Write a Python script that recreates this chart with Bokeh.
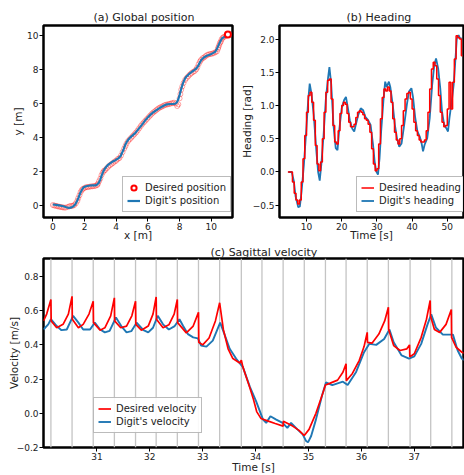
from bokeh.plotting import figure
from bokeh.layouts import column, row
from bokeh.models import Range1d, FixedTicker, Span, Legend, LegendItem
from bokeh.embed import file_html
from bokeh.resources import INLINE

FONT = "DejaVu Sans"
RED = "#ff0000"
BLUE = "#1f77b4"

# ---------------- (a) Global position ----------------
pos_x = [0.0, 0.2, 0.4, 0.67, 0.85, 1.0, 1.15, 1.3, 1.42, 1.52, 1.63, 1.73, 1.84, 1.94, 2.1, 2.25, 2.45, 2.68, 2.8,
         2.89, 3.0, 3.1, 3.2, 3.31, 3.5, 3.72, 3.95, 4.15, 4.28, 4.36, 4.47, 4.57, 4.7, 4.84, 5.0, 5.2, 5.4, 5.62,
         5.82, 6.04, 6.25, 6.46, 6.68, 6.88, 7.05, 7.2, 7.4, 7.62, 7.75, 7.83, 7.92, 8.0, 8.1, 8.21, 8.32, 8.42,
         8.6, 8.78, 8.95, 9.09, 9.2, 9.3, 9.4, 9.51, 9.72, 9.94, 10.1, 10.25, 10.36, 10.46, 10.57, 10.67, 10.82,
         10.99, 11.05]
pos_y = [0.08, 0.06, 0.03, -0.02, -0.08, -0.12, -0.1, -0.02, 0.1, 0.27, 0.5, 0.76, 0.95, 1.09, 1.15, 1.18, 1.2,
         1.2, 1.25, 1.34, 1.55, 1.83, 2.05, 2.22, 2.42, 2.57, 2.68, 2.8, 2.92, 3.09, 3.32, 3.58, 3.8, 3.97, 4.1,
         4.26, 4.5, 4.75, 5.0, 5.23, 5.42, 5.56, 5.7, 5.81, 5.9, 5.95, 5.97, 5.97, 6.0, 6.07, 6.25, 6.5, 6.85,
         7.18, 7.42, 7.57, 7.73, 7.86, 7.97, 8.09, 8.25, 8.44, 8.58, 8.68, 8.8, 8.87, 8.95, 9.03, 9.2, 9.42, 9.63,
         9.81, 9.9, 9.94, 9.9]
des_x = [0.0, 0.1, 0.2, 0.3, 0.4, 0.5, 0.6, 0.7, 0.8, 0.95, 1.05, 1.15, 1.25, 1.35, 1.45, 1.55, 1.6, 1.68, 1.75,
         1.82, 1.9, 2.0, 2.1, 2.2, 2.3, 2.4, 2.5, 2.6, 2.7, 2.8, 2.85, 2.92, 3.0, 3.07, 3.15, 3.22, 3.3, 3.4, 3.5,
         3.6, 3.7, 3.8, 3.9, 4.0, 4.1, 4.2, 4.3, 4.4, 4.5, 4.58, 4.65, 4.75, 4.85, 4.95, 5.05, 5.15, 5.25, 5.35,
         5.45, 5.55, 5.65, 5.75, 5.85, 5.95, 6.05, 6.15, 6.25, 6.35, 6.45, 6.55, 6.65, 6.75, 6.85, 6.95, 7.05,
         7.15, 7.25, 7.35, 7.45, 7.55, 7.65, 7.75, 7.85, 7.92, 8.0, 8.05, 8.1, 8.17, 8.25, 8.35, 8.45, 8.55, 8.65,
         8.75, 8.85, 8.95, 9.05, 9.12, 9.2, 9.28, 9.35, 9.45, 9.55, 9.65, 9.75, 9.85, 9.95, 10.05, 10.15, 10.25,
         10.35, 10.42, 10.45, 10.5, 10.55, 10.6, 10.65, 10.72, 10.8, 10.9, 11.0, 11.05]
des_y = [0.05, 0.02, 0.0, -0.02, -0.05, -0.06, -0.08, -0.1, -0.1, -0.06, -0.02, 0.0, 0.0, 0.05, 0.15, 0.3, 0.45,
         0.62, 0.8, 0.92, 1.0, 1.05, 1.1, 1.1, 1.12, 1.14, 1.15, 1.16, 1.18, 1.22, 1.3, 1.45, 1.6, 1.8, 1.95, 2.05,
         2.1, 2.2, 2.3, 2.38, 2.45, 2.52, 2.6, 2.65, 2.75, 2.8, 2.95, 3.15, 3.35, 3.5, 3.65, 3.8, 3.9, 4.0, 4.1,
         4.2, 4.3, 4.42, 4.55, 4.68, 4.8, 4.9, 5.0, 5.1, 5.2, 5.3, 5.4, 5.48, 5.55, 5.63, 5.7, 5.76, 5.8, 5.85,
         5.9, 5.93, 5.95, 5.97, 6.0, 6.02, 6.05, 6.0, 5.85, 5.95, 6.3, 6.55, 6.8, 7.0, 7.2, 7.38, 7.5, 7.6, 7.7,
         7.78, 7.85, 7.9, 8.0, 8.12, 8.3, 8.45, 8.55, 8.65, 8.7, 8.78, 8.85, 8.88, 8.9, 8.92, 8.95, 9.0, 9.05,
         9.2, 9.3, 9.42, 9.55, 9.62, 9.75, 9.85, 9.9, 9.95, 10.0, 10.04]
a_xticks = [0, 2, 4, 6, 8, 10]
a_xlabels = ["0", "2", "4", "6", "8", "10"]
a_yticks = [0, 2, 4, 6, 8, 10]
a_ylabels = ["0", "2", "4", "6", "8", "10"]

# ---------------- (b) Heading ----------------
hd_t = [4.85, 5.8, 6.4, 6.9, 7.65, 8.1, 8.6, 9.25, 9.9, 10.45, 10.9, 11.4, 12.05, 12.8, 13.3, 13.75, 14.2, 14.85,
        15.5, 16.1, 16.5, 17.0, 17.65, 18.3, 18.8, 19.25, 20.0, 20.65, 21.2, 21.7, 22.3, 23.0, 23.55, 24.0, 24.7,
        25.4, 26.1, 26.7, 27.5, 28.2, 28.9, 29.35, 29.8, 30.3, 30.75, 31.2, 31.9, 32.35, 32.8, 33.4, 33.8, 34.5,
        35.1, 35.7, 36.35, 37.0, 37.75, 38.5, 39.1, 39.8, 40.25, 40.85, 41.5, 42.2, 42.7, 43.1, 43.55, 44.3, 45.0,
        45.7, 46.3, 46.8, 47.4, 48.0, 48.5, 49.1, 49.7, 50.2, 50.6, 51.3, 51.8, 52.2, 52.7, 53.2, 53.6, 54.1]
hd_y = [0.0, 0.0, -0.14, -0.37, -0.53, -0.52, -0.29, 0.11, 0.61, 1.06, 1.33, 1.18, 0.86, 0.31, 0.0, -0.13, 0.11,
        0.56, 1.11, 1.41, 1.58, 1.33, 0.71, 0.36, 0.33, 0.61, 0.96, 1.08, 1.13, 0.98, 0.78, 0.65, 0.61, 0.71, 0.86,
        0.96, 0.93, 0.83, 0.78, 0.71, 0.41, 0.16, 0.01, -0.04, 0.21, 0.61, 1.11, 1.36, 1.28, 1.36, 1.28, 1.01,
        0.71, 0.51, 0.38, 0.43, 0.71, 1.01, 1.21, 1.26, 1.13, 0.83, 0.61, 0.53, 0.43, 0.31, 0.41, 0.51, 0.81, 1.31,
        1.61, 1.71, 1.56, 1.26, 0.91, 0.71, 0.66, 0.61, 0.81, 1.08, 1.31, 1.61, 2.01, 2.06, 2.01, 2.01]
dh_t = [4.7, 5.0, 5.5, 6.0, 6.5, 7.0, 7.5, 8.0, 8.5, 9.0, 9.5, 10.0, 10.5, 11.0, 11.5, 12.0, 12.5, 13.0, 13.5,
        14.0, 14.5, 15.0, 15.5, 16.0, 16.5, 17.0, 17.5, 18.0, 18.5, 19.0, 19.5, 20.0, 20.5, 21.0, 21.5, 22.0,
        22.5, 23.0, 23.5, 24.0, 24.5, 25.0, 25.5, 26.0, 26.5, 27.0, 27.5, 28.0, 28.5, 29.0, 29.5, 30.0, 30.5,
        31.0, 31.5, 32.0, 32.5, 33.0, 33.5, 34.0, 34.5, 35.0, 35.5, 36.0, 36.5, 37.0, 37.5, 38.0, 38.5, 39.0,
        39.5, 40.0, 40.5, 41.0, 41.5, 42.0, 42.5, 43.0, 43.5, 44.0, 44.5, 45.0, 45.5, 46.0, 46.5, 47.0, 47.5,
        48.0, 48.5, 49.0, 49.5, 50.0, 50.5, 51.0, 51.5, 52.0, 52.5, 53.0, 53.5, 54.0, 54.3]
dh_y = [0.0, 0.0, 0.0, -0.15, -0.32, -0.42, -0.48, -0.42, -0.15, 0.2, 0.55, 0.9, 1.15, 1.2, 1.05, 0.78, 0.4, 0.12,
        0.02, 0.15, 0.5, 0.9, 1.2, 1.38, 1.4, 1.1, 0.7, 0.45, 0.42, 0.62, 0.88, 1.0, 1.05, 1.02, 0.88, 0.75, 0.68,
        0.68, 0.72, 0.82, 0.9, 0.92, 0.9, 0.86, 0.8, 0.78, 0.72, 0.6, 0.35, 0.12, 0.02, 0.05, 0.42, 0.8, 1.12,
        1.25, 1.22, 1.28, 1.22, 1.05, 0.8, 0.6, 0.48, 0.42, 0.5, 0.7, 0.92, 1.1, 1.18, 1.2, 1.1, 0.95, 0.75, 0.62,
        0.55, 0.48, 0.45, 0.45, 0.48, 0.62, 0.9, 1.25, 1.55, 1.65, 1.6, 1.4, 1.15, 0.9, 0.75, 0.68, 0.7, 0.95,
        1.35, 0.95, 1.35, 1.7, 2.05, 2.02, 2.0, 1.75, 1.75]
b_xticks = [10, 20, 30, 40, 50]
b_xlabels = ["10", "20", "30", "40", "50"]
b_yticks = [-0.5, 0.0, 0.5, 1.0, 1.5, 2.0]
b_ylabels = ["\u22120.5", "0.0", "0.5", "1.0", "1.5", "2.0"]

# ---------------- (c) Sagittal velocity ----------------
step_times = [30.13, 30.53, 30.93, 31.33, 31.73, 32.12, 32.52, 32.92, 33.32, 33.73, 34.12, 34.52, 34.92, 35.32,
              35.71, 36.11, 36.51, 36.92, 37.31, 37.71]
dv_t = [29.99, 30.05, 30.13, 30.135, 30.24, 30.36, 30.46, 30.53, 30.535, 30.65, 30.74, 30.85, 30.93, 30.935,
        31.06, 31.15, 31.26, 31.33, 31.335, 31.45, 31.56, 31.66, 31.73, 31.735, 31.84, 31.97, 32.06, 32.12,
        32.125, 32.25, 32.36, 32.46, 32.52, 32.525, 32.69, 32.82, 32.92, 32.925, 33.0, 33.12, 33.24, 33.32,
        33.39, 33.48, 33.57, 33.7, 33.73, 33.76, 33.88, 33.96, 34.02, 34.1, 34.24, 34.37, 34.52, 34.525, 34.7,
        34.82, 34.92, 35.01, 35.14, 35.27, 35.32, 35.4, 35.55, 35.65, 35.71, 35.715, 35.83, 35.96, 36.05, 36.11,
        36.115, 36.2, 36.33, 36.44, 36.51, 36.515, 36.61, 36.73, 36.86, 36.91, 36.915, 37.0, 37.13, 37.23, 37.3,
        37.305, 37.38, 37.48, 37.6, 37.7, 37.705, 37.79, 37.9, 37.95]
dv_y = [0.54, 0.58, 0.665, 0.54, 0.50, 0.52, 0.58, 0.684, 0.55, 0.50, 0.52, 0.58, 0.655, 0.53, 0.486, 0.50, 0.57,
        0.675, 0.54, 0.50, 0.51, 0.57, 0.655, 0.52, 0.486, 0.51, 0.58, 0.68, 0.55, 0.50, 0.517, 0.58, 0.665, 0.53,
        0.47, 0.51, 0.59, 0.415, 0.40, 0.44, 0.54, 0.646, 0.49, 0.377, 0.32, 0.294, 0.31, 0.27, 0.16, 0.08, 0.01,
        -0.03, -0.046, -0.06, -0.075, -0.046, -0.075, -0.10, -0.13, -0.094, 0.0, 0.117, 0.165, 0.175, 0.194,
        0.24, 0.29, 0.19, 0.233, 0.31, 0.39, 0.473, 0.415, 0.41, 0.463, 0.54, 0.62, 0.49, 0.396, 0.367, 0.377,
        0.40, 0.33, 0.348, 0.444, 0.55, 0.66, 0.57, 0.49, 0.473, 0.52, 0.607, 0.444, 0.386, 0.357, 0.35]
vel_t = [29.99, 30.08, 30.13, 30.24, 30.33, 30.43, 30.55, 30.65, 30.74, 30.87, 30.96, 31.06, 31.15, 31.24, 31.36,
         31.46, 31.56, 31.65, 31.75, 31.88, 31.97, 32.06, 32.15, 32.25, 32.36, 32.47, 32.56, 32.63, 32.72, 32.82,
         32.91, 32.97, 33.07, 33.19, 33.33, 33.41, 33.51, 33.63, 33.76, 33.89, 34.01, 34.14, 34.2, 34.28, 34.39,
         34.51, 34.6, 34.67, 34.79, 34.89, 34.95, 34.99, 35.05, 35.14, 35.26, 35.33, 35.45, 35.65, 35.74, 35.9,
         36.05, 36.15, 36.28, 36.43, 36.53, 36.61, 36.76, 36.9, 37.0, 37.13, 37.25, 37.32, 37.41, 37.54, 37.67,
         37.73, 37.82, 37.9, 37.95]
vel_y = [0.49, 0.52, 0.55, 0.51, 0.486, 0.49, 0.57, 0.53, 0.49, 0.49, 0.53, 0.49, 0.473, 0.482, 0.56, 0.51, 0.473,
         0.48, 0.53, 0.486, 0.473, 0.50, 0.57, 0.52, 0.49, 0.51, 0.55, 0.51, 0.463, 0.444, 0.438, 0.396, 0.39,
         0.425, 0.53, 0.463, 0.377, 0.32, 0.27, 0.156, 0.07, -0.037, -0.056, -0.017, -0.037, -0.056, -0.085,
         -0.056, -0.094, -0.123, -0.16, -0.17, -0.133, -0.037, 0.108, 0.18, 0.165, 0.185, 0.165, 0.242, 0.357,
         0.406, 0.40, 0.434, 0.49, 0.415, 0.338, 0.319, 0.333, 0.406, 0.52, 0.578, 0.50, 0.46, 0.46, 0.46, 0.367,
         0.319, 0.31]
c_xticks = [31, 32, 33, 34, 35, 36, 37]
c_xlabels = ["31", "32", "33", "34", "35", "36", "37"]
c_yticks = [-0.2, 0.0, 0.2, 0.4, 0.6, 0.8]
c_ylabels = ["\u22120.2", "0.0", "0.2", "0.4", "0.6", "0.8"]


def style(p, xt, xl, yt, yl, xlabel, ylabel, title, title_off, xstand, ystand, tstand):
    p.outline_line_color = "black"
    p.outline_line_width = 2.5
    p.outline_line_alpha = 1.0
    p.xgrid.visible = False
    p.ygrid.visible = False
    p.background_fill_color = "white"
    p.border_fill_color = "white"
    for ax, t, l in ((p.xaxis[0], xt, xl), (p.yaxis[0], yt, yl)):
        ax.ticker = FixedTicker(ticks=t)
        ax.major_label_overrides = dict(zip(t, l))
        ax.axis_line_color = None
        ax.major_tick_in = 0
        ax.major_tick_out = 4
        ax.major_tick_line_color = "black"
        ax.major_tick_line_width = 1
        ax.minor_tick_line_color = None
        ax.major_label_text_font = FONT
        ax.major_label_text_font_size = "9px"
        ax.major_label_text_color = "#222222"
        ax.major_label_standoff = 1
        ax.axis_label_text_font = FONT
        ax.axis_label_text_font_size = "10.5px"
        ax.axis_label_text_font_style = "normal"
        ax.axis_label_text_color = "#222222"
    p.xaxis[0].axis_label = xlabel
    p.yaxis[0].axis_label = ylabel
    p.xaxis[0].axis_label_standoff = xstand
    p.yaxis[0].axis_label_standoff = ystand
    p.title.text = title
    p.title.align = "left"
    p.title.offset = title_off
    p.title.text_font = FONT
    p.title.text_font_size = "11px"
    p.title.text_font_style = "normal"
    p.title.text_color = "#222222"
    p.title.standoff = tstand


def add_legend(p, items, loc):
    lg = Legend(items=items, location=loc)
    lg.border_line_color = "#777777"
    lg.border_line_width = 1
    lg.background_fill_color = "white"
    lg.background_fill_alpha = 0.9
    lg.padding = 4
    lg.spacing = 0
    lg.margin = 0
    lg.glyph_width = 13
    lg.glyph_height = 13
    lg.label_height = 13
    lg.label_standoff = 5
    lg.label_text_font = FONT
    lg.label_text_font_size = "10px"
    lg.label_text_color = "#222222"
    p.add_layout(lg)


# ----- figure (a)
pa = figure(width=237, height=243, output_backend="svg", toolbar_location=None,
            x_range=Range1d(-0.59, 11.34), y_range=Range1d(-0.68, 10.57),
            min_border_left=43, min_border_right=5, min_border_top=25, min_border_bottom=25)
style(pa, a_xticks, a_xlabels, a_yticks, a_ylabels, "x [m]", "y [m]", "(a) Global position", 50, -4, 0, 4)
r_des = pa.scatter(des_x, des_y, marker="circle", size=5, fill_color=None, line_color=RED,
                   line_alpha=0.35, line_width=1)
r_pos = pa.line(pos_x, pos_y, line_color=BLUE, line_width=2.2)
# final desired point drawn solid (also serves as the legend glyph)
r_des_end = pa.scatter(des_x[-1:], des_y[-1:], marker="circle", size=6, fill_color="white",
                       line_color=RED, line_width=2)
add_legend(pa, [LegendItem(label="Desired position", renderers=[r_des_end]),
                LegendItem(label="Digit's position", renderers=[r_pos])], (79, 5))

# ----- figure (b)
pb = figure(width=227, height=243, output_backend="svg", toolbar_location=None,
            x_range=Range1d(2.32, 54.6), y_range=Range1d(-0.685, 2.205),
            min_border_left=38, min_border_right=1, min_border_top=25, min_border_bottom=25)
style(pb, b_xticks, b_xlabels, b_yticks, b_ylabels, "Time [s]", "Heading [rad]", "(b) Heading", 67, -4, -3, 4)
r_hd = pb.line(hd_t, hd_y, line_color=BLUE, line_width=1.8)
r_dh = pb.step(dh_t, dh_y, mode="after", line_color=RED, line_width=1.5)
add_legend(pb, [LegendItem(label="Desired heading", renderers=[r_dh]),
                LegendItem(label="Digit's heading", renderers=[r_hd])], (77, 5))

# ----- figure (c)
pc = figure(width=464, height=232, output_backend="svg", toolbar_location=None,
            x_range=Range1d(29.99, 37.93), y_range=Range1d(-0.2, 0.905),
            min_border_left=43, min_border_right=1, min_border_top=13, min_border_bottom=27)
style(pc, c_xticks, c_xlabels, c_yticks, c_ylabels, "Time [s]", "Velocity [m/s]", "(c) Sagittal velocity", 167,
      -2, -6, 0)
for st in step_times:
    pc.add_layout(Span(location=st, dimension="height", line_color="#c4c4c4", line_width=1.3, level="underlay"))
r_vel = pc.line(vel_t, vel_y, line_color=BLUE, line_width=1.9)
r_dv = pc.line(dv_t, dv_y, line_color=RED, line_width=1.7)
add_legend(pc, [LegendItem(label="Desired velocity", renderers=[r_dv]),
                LegendItem(label="Digit's velocity", renderers=[r_vel])], (50, 14))

layout = column(row(pa, pb), pc)
open("out.html", "w").write(file_html(layout, INLINE))
